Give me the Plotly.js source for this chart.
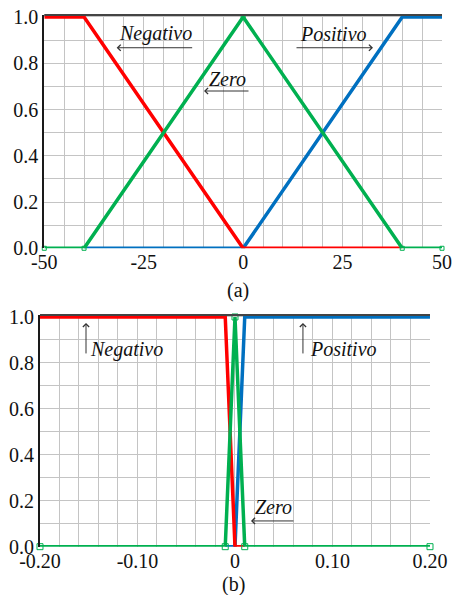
<!DOCTYPE html>
<html>
<head>
<meta charset="utf-8">
<script src="https://cdn.plot.ly/plotly-3.0.1.min.js"></script>
<style>
html,body{margin:0;padding:0;background:#fff;}
#chart svg text { font-family: 'Liberation Serif', serif !important; }
</style>
</head>
<body>
<div id="chart" style="width:457px;height:595px;"></div>
<script>
// ---- Data: (a) ----
const aNegX = [-50, -40, 0, 40];
const aNegY = [1, 1, 0, 0];
const aZeroX = [-50, -40, 0, 40, 50];
const aZeroY = [0, 0, 1, 0, 0];
const aPosX = [-40, 0, 40, 50];
const aPosY = [0, 0, 1, 1];
const aTickVals = [-50, -25, 0, 25, 50];
const aTickText = ['-50', '-25', '0', '25', '50'];

// ---- Data: (b) ----
const bNegX = [-0.2, -0.01, 0, 0.01];
const bNegY = [1, 1, 0, 0];
const bZeroX = [-0.2, -0.01, 0, 0.01, 0.2];
const bZeroY = [0, 0, 1, 0, 0];
const bPosX = [-0.01, 0, 0.01, 0.2];
const bPosY = [0, 0, 1, 1];
const bTickVals = [-0.2, -0.1, 0, 0.1, 0.2];
const bTickText = ['-0.20', '-0.10', '0', '0.10', '0.20'];

const yTickVals = [0, 0.2, 0.4, 0.6, 0.8, 1.0];
const yTickText = ['0.0', '0.2', '0.4', '0.6', '0.8', '1.0'];

const RED = '#ff0000', GREEN = '#00b050', BLUE = '#0070c0';
const FONT = 'Liberation Serif';
const GRID = '#c4c4c4';

function line(x, y, color, xa, ya, markers) {
  const t = {x: x, y: y, type: 'scatter', mode: markers ? 'lines+markers' : 'lines',
    line: {color: color, width: 3.5}, xaxis: xa, yaxis: ya, hoverinfo: 'skip', cliponaxis: false};
  if (markers) t.marker = {symbol: 'square-open', size: markers, color: color, line: {width: 1, color: color}};
  return t;
}

const traces = [
  line(aPosX, aPosY, BLUE, 'x', 'y'),
  line(aNegX, aNegY, RED, 'x', 'y'),
  line(aZeroX, aZeroY, GREEN, 'x', 'y', 4),
  line(bPosX, bPosY, BLUE, 'x2', 'y2'),
  line(bNegX, bNegY, RED, 'x2', 'y2'),
  line(bZeroX, bZeroY, GREEN, 'x2', 'y2', 6)
];

function xax(domain, range, tv, tt, minorD, anchor) {
  return {domain: domain, range: range, anchor: anchor, tickmode: 'array', tickvals: tv, ticktext: tt,
    showgrid: false, zeroline: false, showline: false, ticks: '',
    tickfont: {family: FONT, size: 20, color: '#111'},
    minor: {tickmode: 'linear', tick0: range[0], dtick: minorD, showgrid: true, gridcolor: GRID, gridwidth: 1, ticks: ''},
    fixedrange: true};
}
function yax(domain, anchor) {
  return {domain: domain, range: [0, 1.0086], anchor: anchor, tickmode: 'array', tickvals: yTickVals, ticktext: yTickText,
    showgrid: true, gridcolor: GRID, gridwidth: 1, zeroline: false, showline: true, linecolor: '#1a1a1a', linewidth: 2,
    ticks: '', tickfont: {family: FONT, size: 20, color: '#111'},
    minor: {tickmode: 'linear', tick0: 0, dtick: 0.1, showgrid: true, gridcolor: GRID, gridwidth: 1, ticks: ''},
    fixedrange: true};
}

function txt(t, x, y, xr, yr) {
  return {text: '<i>' + t + '</i>', x: x, y: y, xref: xr, yref: yr, showarrow: false,
    font: {family: FONT, size: 20, color: '#111'}, xanchor: 'center', yanchor: 'middle'};
}
function arr(x, y, ax, ay, xr, yr) {
  return {text: '', x: x, y: y, xref: xr, yref: yr, ax: ax, ay: ay, showarrow: true,
    arrowhead: 4, arrowsize: 1.2, arrowwidth: 1, arrowcolor: '#333'};
}

const layout = {
  width: 457, height: 595,
  margin: {l: 0, r: 0, t: 0, b: 0},
  paper_bgcolor: '#fff', plot_bgcolor: '#fff',
  showlegend: false,
  font: {family: FONT, size: 20},
  xaxis: xax([0.0969, 0.9672], [-50, 50], aTickVals, aTickText, 5, 'y'),
  yaxis: yax([0.5827, 0.9748], 'x'),
  xaxis2: xax([0.0875, 0.9409], [-0.2, 0.2], bTickVals, bTickText, 0.02, 'y2'),
  yaxis2: yax([0.0812, 0.4706], 'x2'),
  shapes: [
    {type: 'line', xref: 'x domain', yref: 'y domain', x0: 0, x1: 1, y0: 1, y1: 1, line: {color: '#444', width: 2}},
    {type: 'line', xref: 'x2 domain', yref: 'y2 domain', x0: 0, x1: 1, y0: 1, y1: 1, line: {color: '#444', width: 2}}
  ],
  annotations: [
    txt('Negativo', -22.0, 0.9265, 'x', 'y'),
    arr(-31.8, 0.867, 77, 0, 'x', 'y'),
    txt('Zero', -4.06, 0.732, 'x', 'y'),
    arr(-9.84, 0.680, 46, 0, 'x', 'y'),
    txt('Positivo', 22.72, 0.9265, 'x', 'y'),
    arr(32.65, 0.867, -78, 0, 'x', 'y'),
    txt('Negativo', -0.1108, 0.860, 'x2', 'y2'),
    arr(-0.1528, 0.974, 0, 32, 'x2', 'y2'),
    txt('Positivo', 0.1113, 0.860, 'x2', 'y2'),
    arr(0.0697, 0.974, 0, 32, 'x2', 'y2'),
    txt('Zero', 0.039, 0.173, 'x2', 'y2'),
    arr(0.0164, 0.112, 44, 0, 'x2', 'y2'),
    {text: '(a)', x: 0.521, y: 1 - 290 / 595, xref: 'paper', yref: 'paper', showarrow: false,
      font: {family: FONT, size: 20, color: '#111'}, xanchor: 'center', yanchor: 'middle'},
    {text: '(b)', x: 0.51, y: 1 - 584 / 595, xref: 'paper', yref: 'paper', showarrow: false,
      font: {family: FONT, size: 20, color: '#111'}, xanchor: 'center', yanchor: 'middle'}
  ]
};

Plotly.newPlot('chart', traces, layout, {displayModeBar: false});
</script>
</body>
</html>
